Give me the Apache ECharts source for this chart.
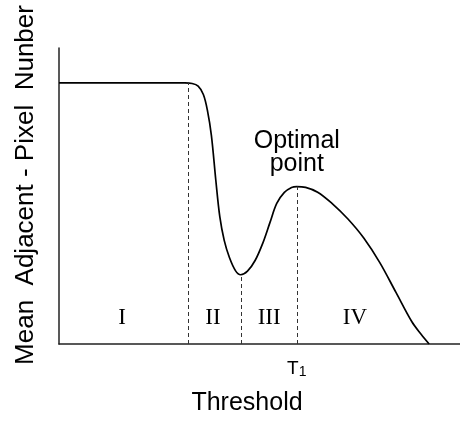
<!DOCTYPE html>
<html>
<head>
<meta charset="utf-8">
<script src="https://cdn.jsdelivr.net/npm/echarts@6/dist/echarts.min.js"></script>
<style>html,body{margin:0;padding:0;background:#fff}#c{width:460px;height:421px}</style>
</head>
<body>
<div id="c"></div>
<script>
// Curve (threshold vs mean adjacent-pixel number), arbitrary units 0..100
var thresholdX = [0, 20, 31.4, 33.2, 34.7, 36.0, 37.0, 38.0, 39.1, 40.1, 41.2, 42.5, 44.0, 45.3, 47.0, 48.9, 50.8, 52.6, 54.3, 56.2, 58.0, 59.3, 61.5, 64.5, 68.0, 72.0, 76.0, 80.0, 84.0, 88.0, 90.3, 92.3];
var pixelNumber = [88.2, 88.2, 88.2, 88.0, 87.1, 84.3, 79.0, 70.5, 55.4, 43.0, 35.0, 29.2, 24.8, 23.4, 24.6, 28.2, 34.0, 41.0, 47.5, 51.2, 52.9, 53.2, 52.9, 51.3, 47.6, 42.3, 35.8, 27.5, 17.5, 7.5, 3.3, 0];
// Region dividers (dashed) and their curve heights
var dividerX = [32.3, 45.4, 59.3];
var dividerY = [88.2, 23.4, 53.2];
// Region labels
var regionNames = ['I', 'II', 'III', 'IV'];
var regionX = [15.7, 38.4, 52.4, 73.8];
var regionLabelY = 8.7;
// Optimal point
var optimalX = 59.3, optimalY = 53.2;
var optimalText = 'Optimal\npoint';
// X tick
var tickValues = [59.3];

var chart = echarts.init(document.getElementById('c'), null, {renderer: 'canvas'});
var sans = 'Liberation Sans';
var serif = 'Liberation Serif';
chart.setOption({
  animation: false,
  backgroundColor: '#fff',
  grid: {left: 59, top: 48, right: 0, bottom: 73},
  xAxis: {
    type: 'value', min: 0, max: 100,
    name: 'Threshold', nameLocation: 'middle', nameGap: 47,
    nameTextStyle: {fontFamily: sans, fontSize: 25, color: '#000', padding: [0, 25, 0, 0]},
    axisLine: {show: true, lineStyle: {color: '#222', width: 1.5}},
    axisTick: {show: false},
    splitLine: {show: false},
    axisLabel: {
      customValues: tickValues, margin: 15,
      formatter: function () { return '{t|T}{s|1}'; },
      rich: {
        t: {fontFamily: sans, fontSize: 19, color: '#000'},
        s: {fontFamily: sans, fontSize: 14, color: '#000', padding: [6, 0, 0, 0]}
      }
    }
  },
  yAxis: {
    type: 'value', min: 0, max: 100,
    name: 'Mean  Adjacent - Pixel  Nunber', nameLocation: 'middle', nameGap: 20, nameRotate: 90,
    nameTextStyle: {fontFamily: sans, fontSize: 26, color: '#000', padding: [0, 0, 0, 22]},
    axisLine: {show: true, lineStyle: {color: '#222', width: 1.5}},
    axisTick: {show: false},
    axisLabel: {show: false},
    splitLine: {show: false}
  },
  series: [
    {
      type: 'line',
      data: thresholdX.map(function (x, i) { return [x, pixelNumber[i]]; }),
      showSymbol: false, smooth: 0.35,
      lineStyle: {color: '#000', width: 1.7},
      markLine: {
        silent: true, symbol: ['none', 'none'], label: {show: false},
        lineStyle: {type: [4, 3], color: '#333', width: 1},
        data: dividerX.map(function (x, i) { return [{coord: [x, 0]}, {coord: [x, dividerY[i]]}]; })
      }
    },
    {
      type: 'scatter', symbolSize: 0, silent: true,
      itemStyle: {opacity: 1},
      data: regionX.map(function (x, i) { return {name: regionNames[i], value: [x, regionLabelY]}; }),
      label: {show: true, opacity: 1, position: 'inside', formatter: '{b}', fontFamily: serif, fontSize: 23, color: '#000'}
    },
    {
      type: 'scatter', symbolSize: 0, silent: true,
      itemStyle: {opacity: 1},
      data: [{name: optimalText, value: [optimalX, optimalY]}],
      label: {show: true, opacity: 1, position: 'top', distance: 11, formatter: '{b}', fontFamily: sans, fontSize: 25, lineHeight: 23, color: '#000', align: 'center'}
    }
  ]
});
</script>
</body>
</html>
